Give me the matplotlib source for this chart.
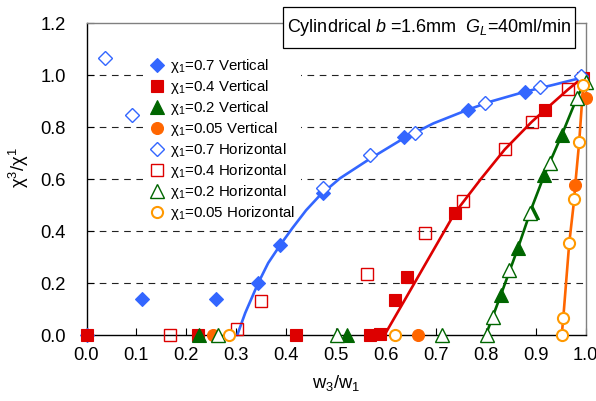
import matplotlib
matplotlib.use("Agg")
import matplotlib.pyplot as plt
from matplotlib.patches import Rectangle
from matplotlib.lines import Line2D

plt.rcParams['font.family'] = ['Liberation Sans', 'DejaVu Sans']
plt.rcParams['mathtext.fontset'] = 'custom'
plt.rcParams['mathtext.rm'] = 'Liberation Sans'
plt.rcParams['mathtext.it'] = 'Liberation Sans:italic'
plt.rcParams['mathtext.default'] = 'regular'

# ---------------- data ----------------
blue_v_x = [0.0, 0.112, 0.259, 0.344, 0.388, 0.473, 0.636, 0.765, 0.879, 0.992]
blue_v_y = [0.0, 0.138, 0.138, 0.200, 0.346, 0.545, 0.760, 0.865, 0.936, 0.990]
blue_h_x = [0.037, 0.0905, 0.474, 0.568, 0.658, 0.798, 0.908, 0.990]
blue_h_y = [1.064, 0.846, 0.564, 0.692, 0.778, 0.891, 0.955, 0.997]

red_v_x = [0.0, 0.224, 0.420, 0.568, 0.588, 0.618, 0.643, 0.738, 0.918, 0.994]
red_v_y = [0.0, 0.0, 0.0, 0.0, 0.005, 0.135, 0.224, 0.470, 0.865, 0.990]
red_h_x = [0.168, 0.301, 0.350, 0.561, 0.678, 0.755, 0.838, 0.892, 0.965]
red_h_y = [0.0, 0.025, 0.131, 0.235, 0.391, 0.515, 0.714, 0.820, 0.945]

green_v_x = [0.226, 0.521, 0.830, 0.864, 0.893, 0.917, 0.952]
green_v_y = [0.0, 0.0, 0.154, 0.333, 0.475, 0.615, 0.769]
green_h_x = [0.264, 0.501, 0.712, 0.802, 0.815, 0.847, 0.888, 0.929, 0.982, 1.0]
green_h_y = [0.0, 0.0, 0.0, 0.0, 0.070, 0.250, 0.468, 0.660, 0.910, 0.974]

orange_v_x = [0.254, 0.665, 0.979, 1.0]
orange_v_y = [0.0, 0.0, 0.577, 0.910]
orange_h_x = [0.285, 0.618, 0.952, 0.955, 0.967, 0.977, 0.987, 0.995]
orange_h_y = [0.0, 0.0, 0.0, 0.064, 0.353, 0.522, 0.743, 0.962]

# fitted curves
blue_fit_x = [0.302, 0.318, 0.344, 0.364, 0.388, 0.412, 0.440, 0.468, 0.508, 0.568,
              0.635, 0.695, 0.762, 0.808, 0.879, 0.935, 0.989, 1.0]
blue_fit_y = [0.0, 0.085, 0.200, 0.277, 0.346, 0.410, 0.480, 0.538, 0.603, 0.678,
              0.756, 0.814, 0.865, 0.897, 0.936, 0.962, 0.988, 0.992]
red_fit_x = [0.597, 0.640, 0.678, 0.738, 0.790, 0.838, 0.892, 0.918, 0.965, 0.994]
red_fit_y = [0.0, 0.143, 0.270, 0.470, 0.600, 0.714, 0.820, 0.865, 0.945, 0.990]
green_fit_x = [0.800, 0.830, 0.864, 0.892, 0.917, 0.952, 0.982, 1.0]
green_fit_y = [0.0, 0.154, 0.333, 0.490, 0.615, 0.769, 0.910, 0.980]
orange_fit_x = [0.952, 0.955, 0.967, 0.977, 0.979, 0.987, 0.995, 0.998]
orange_fit_y = [0.0, 0.064, 0.353, 0.522, 0.577, 0.743, 0.962, 0.985]

labels = ['χ$_1$=0.7 Vertical', 'χ$_1$=0.4 Vertical', 'χ$_1$=0.2 Vertical',
          'χ$_1$=0.05 Vertical', 'χ$_1$=0.7 Horizontal', 'χ$_1$=0.4 Horizontal',
          'χ$_1$=0.2 Horizontal', 'χ$_1$=0.05 Horizontal']
xticks = [0.0, 0.1, 0.2, 0.3, 0.4, 0.5, 0.6, 0.7, 0.8, 0.9, 1.0]
yticks = [0.0, 0.2, 0.4, 0.6, 0.8, 1.0, 1.2]

BLUE = '#3366FF'
RED = '#DD0000'
GREEN = '#006600'
ORANGE = '#FF6600'
ORANGE_H = '#FF9900'

W, H = 596, 401
fig = plt.figure(figsize=(W / 100, H / 100), dpi=100)
x0, x1, y0, y1 = 86.5, 585.7, 335, 23
ax = fig.add_axes([x0 / W, 1 - y0 / H, (x1 - x0) / W, (y0 - y1) / H])

# fit lines
for fx, fy, c in [(blue_fit_x, blue_fit_y, BLUE), (red_fit_x, red_fit_y, RED),
                  (green_fit_x, green_fit_y, GREEN), (orange_fit_x, orange_fit_y, ORANGE)]:
    ax.plot(fx, fy, color=c, lw=1.9, zorder=3, clip_on=False, solid_capstyle='round',
            solid_joinstyle='round')

series = [
    (blue_v_x, blue_v_y, dict(marker='D', ms=7.0, mfc=BLUE, mec=BLUE, mew=0.8)),
    (red_v_x, red_v_y, dict(marker='s', ms=8.6, mfc=RED, mec=RED, mew=0.8)),
    (green_v_x, green_v_y, dict(marker='^', ms=9.5, mfc=GREEN, mec=GREEN, mew=0.8)),
    (orange_v_x, orange_v_y, dict(marker='o', ms=8.6, mfc=ORANGE, mec=ORANGE, mew=0.8)),
    (blue_h_x, blue_h_y, dict(marker='D', ms=6.8, mfc='white', mec=BLUE, mew=1.0)),
    (red_h_x, red_h_y, dict(marker='s', ms=8.4, mfc='none', mec=RED, mew=1.0)),
    (green_h_x, green_h_y, dict(marker='^', ms=9.5, mfc='white', mec=GREEN, mew=1.0)),
    (orange_h_x, orange_h_y, dict(marker='o', ms=8.0, mfc='white', mec=ORANGE_H, mew=1.5)),
]
handles = []
for i, (sx, sy, st) in enumerate(series):
    ax.plot(sx, sy, ls='none', zorder=4 + i * 0.1, clip_on=False, **st)
    handles.append(Line2D([], [], ls='none', **st))

ax.set_xlim(0, 1.0)
ax.set_ylim(0, 1.2)
ax.set_xticks(xticks)
ax.set_yticks(yticks)
ax.set_xticklabels([f'{v:.1f}' for v in xticks])
ax.set_yticklabels([f'{v:.1f}' for v in yticks])
ax.tick_params(axis='both', direction='in', labelsize=13.2, colors='black', width=0.8)
ax.tick_params(axis='x', length=5, pad=9)
ax.tick_params(axis='y', length=5, pad=15)

for v in yticks[1:-1]:
    ax.axhline(v, color='#222222', lw=0.8, ls=(0, (6, 5)), zorder=1)

ax.spines['left'].set_color('black')
ax.spines['bottom'].set_color('black')
ax.spines['top'].set_color('#808080')
ax.spines['right'].set_color('#808080')
for s in ax.spines.values():
    s.set_linewidth(1.0)

leg = ax.legend(handles, labels, loc='upper left',
                bbox_to_anchor=((143 - x0) / (x1 - x0), (y0 - 51) / (y0 - y1)),
                borderaxespad=0, fontsize=10.8, frameon=True, fancybox=False,
                handlelength=1.0, handletextpad=0.4, labelspacing=0.2, borderpad=0.4)
leg.get_frame().set_facecolor('white')
leg.get_frame().set_edgecolor('none')
leg.get_frame().set_alpha(1.0)
leg.set_zorder(2)

fig.text(336 / W, 1 - 383 / H, 'w$_3$/w$_1$', ha='center', va='center', fontsize=13.2)
fig.text(19 / W, 1 - 168 / H, 'χ$^3$/χ$^1$', ha='center', va='center', fontsize=13.2, rotation=90)

rect = Rectangle((282.7 / W, 1 - 48.3 / H), (575 - 282.7) / W, 41 / H, transform=fig.transFigure,
                 facecolor='white', edgecolor='black', lw=0.9, zorder=20)
fig.add_artist(rect)
fig.text(429 / W, 1 - 32.5 / H, 'Cylindrical $\\mathit{b}$ =1.6mm  $\\mathit{G_L}$=40ml/min',
         ha='center', va='baseline', fontsize=13, zorder=21)

fig.savefig('out.png', dpi=100)
